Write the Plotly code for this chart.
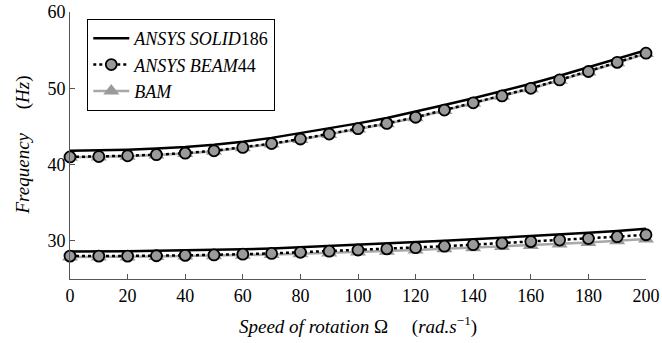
import plotly.graph_objects as go

speed = list(range(0, 201, 10))

solid_mode1 = [28.6, 28.6, 28.65, 28.7, 28.75, 28.8, 28.9, 29.0, 29.15, 29.3, 29.45,
               29.6, 29.8, 30.0, 30.2, 30.4, 30.6, 30.8, 31.05, 31.3, 31.6]
beam_mode1 = [28.0, 28.0, 28.0, 28.05, 28.1, 28.15, 28.25, 28.35, 28.5, 28.65, 28.8,
              28.95, 29.1, 29.3, 29.5, 29.7, 29.9, 30.1, 30.3, 30.55, 30.8]
bam_mode1 = [27.9, 27.9, 27.9, 27.95, 28.0, 28.05, 28.1, 28.2, 28.3, 28.4, 28.55,
             28.65, 28.8, 28.95, 29.1, 29.25, 29.4, 29.6, 29.8, 30.0, 30.25]

solid_mode2 = [41.8, 41.85, 41.95, 42.1, 42.3, 42.6, 43.0, 43.5, 44.1, 44.75, 45.4,
               46.1, 46.9, 47.8, 48.7, 49.6, 50.6, 51.65, 52.75, 53.9, 55.0]
beam_mode2 = [41.0, 41.05, 41.15, 41.3, 41.5, 41.8, 42.25, 42.75, 43.35, 44.0, 44.7,
              45.4, 46.2, 47.15, 48.1, 49.0, 50.0, 51.1, 52.2, 53.4, 54.6]
bam_mode2 = [40.95, 41.0, 41.1, 41.25, 41.45, 41.75, 42.2, 42.7, 43.3, 43.95, 44.65,
             45.35, 46.15, 47.1, 48.05, 48.95, 49.95, 51.05, 52.15, 53.35, 54.55]

name_solid = "<i>ANSYS SOLID</i>186"
name_beam = "<i>ANSYS BEAM</i>44"
name_bam = "<i>BAM</i>"

x_title = "<i>Speed of rotation</i> Ω &nbsp;&nbsp;&nbsp; (<i>rad.s</i><sup>−1</sup>)"
y_title = "<i>Frequency</i> &nbsp;&nbsp;&nbsp; (<i>Hz</i>)"

FONT = "Liberation Serif"
GRAY = "#9a9a9a"

fig = go.Figure()

for i, ys in enumerate([bam_mode1, bam_mode2]):
    fig.add_trace(go.Scatter(
        x=speed, y=ys, mode="lines+markers", name=name_bam,
        legendgroup="bam", showlegend=(i == 0), legendrank=3,
        line=dict(color="#a8a8a8", width=2.5),
        marker=dict(symbol="triangle-up", size=14, color=GRAY,
                    line=dict(width=0)),
        cliponaxis=False))

for i, ys in enumerate([solid_mode1, solid_mode2]):
    fig.add_trace(go.Scatter(
        x=speed, y=ys, mode="lines", name=name_solid,
        legendgroup="solid", showlegend=(i == 0), legendrank=1,
        line=dict(color="black", width=2.5),
        cliponaxis=False))

for i, ys in enumerate([beam_mode1, beam_mode2]):
    fig.add_trace(go.Scatter(
        x=speed, y=ys, mode="lines+markers", name=name_beam,
        legendgroup="beam", showlegend=(i == 0), legendrank=2,
        line=dict(color="black", width=2.5, dash="dot"),
        marker=dict(symbol="circle", size=11, color=GRAY,
                    line=dict(color="black", width=1.8)),
        cliponaxis=False))

fig.update_layout(
    width=662, height=343,
    margin=dict(l=70, r=16, t=12, b=64, autoexpand=False),
    plot_bgcolor="white", paper_bgcolor="white",
    font=dict(family=FONT, size=17, color="black"),
    showlegend=True,
    legend=dict(
        x=0.03, y=0.974, xanchor="left", yanchor="top",
        bgcolor="white", bordercolor="black", borderwidth=1,
        font=dict(family=FONT, size=18, color="black"),
        tracegroupgap=0, itemwidth=36,
    ),
    xaxis=dict(
        range=[0, 200], tickmode="array", tickvals=list(range(0, 201, 20)),
        showgrid=False, zeroline=False, automargin=False,
        showline=True, linecolor="#555555", linewidth=1,
        ticks="inside", ticklen=5, tickcolor="#555555",
        tickfont=dict(family=FONT, size=18),
    ),
    yaxis=dict(
        range=[25, 60], tickmode="array", tickvals=[30, 40, 50, 60],
        showgrid=False, zeroline=False, automargin=False,
        showline=True, linecolor="#555555", linewidth=1,
        ticks="inside", ticklen=5, tickcolor="#555555",
        tickfont=dict(family=FONT, size=18),
    ),
    annotations=[
        dict(text=x_title, xref="paper", yref="paper", x=0.5, y=0,
             xanchor="center", yanchor="middle", yshift=-46, showarrow=False,
             font=dict(family=FONT, size=19)),
        dict(text=y_title, xref="paper", yref="paper", x=0, y=0.5,
             xanchor="center", yanchor="middle", xshift=-48, showarrow=False,
             textangle=-90, font=dict(family=FONT, size=19)),
    ],
)

fig.write_html("out.html")
